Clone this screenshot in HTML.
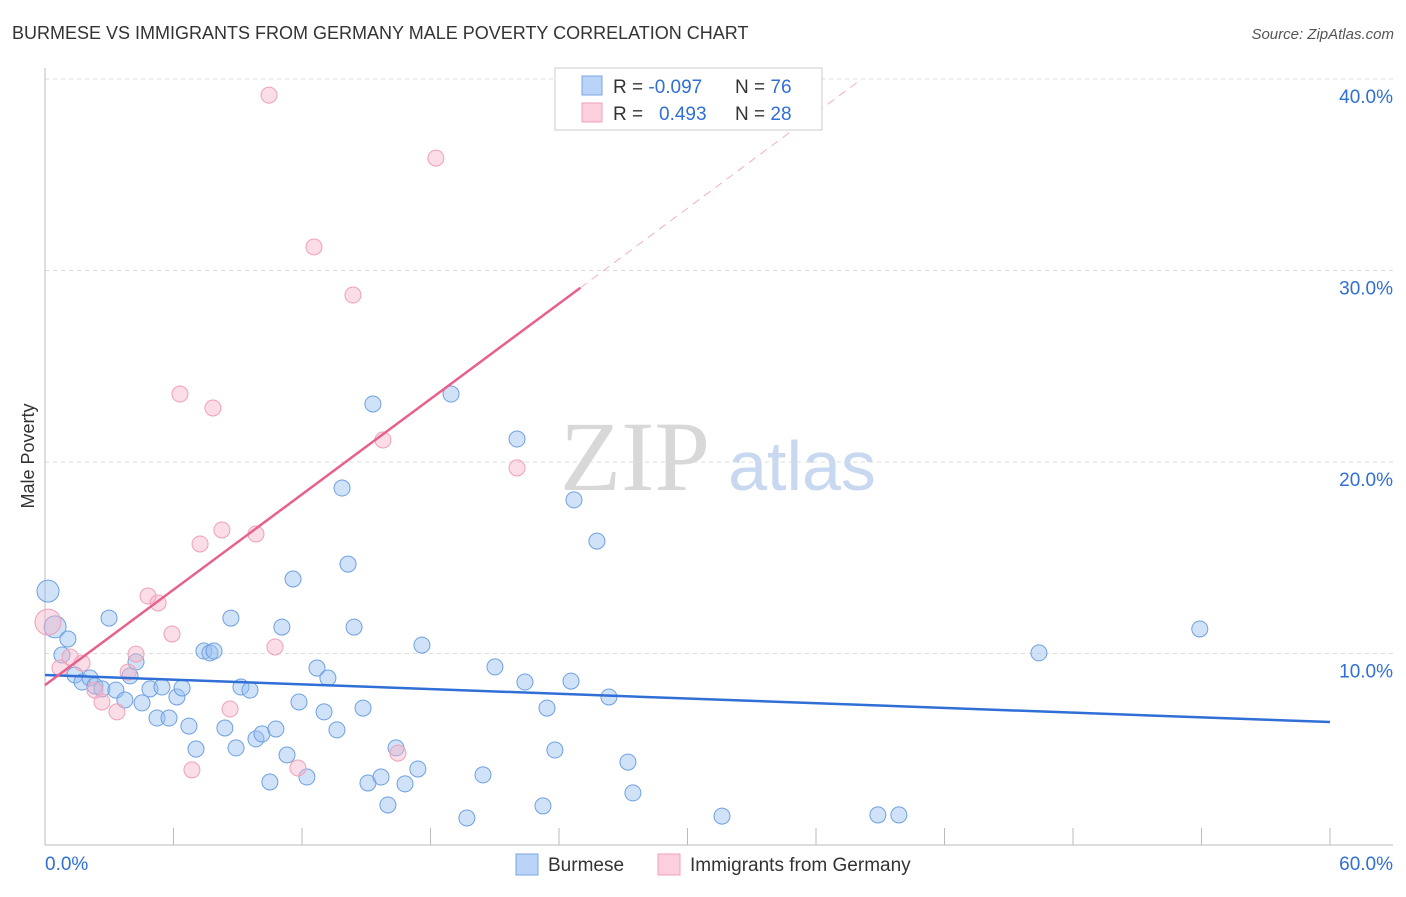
<!DOCTYPE html>
<html><head><meta charset="utf-8"><style>
body{margin:0;background:#fff;font-family:"Liberation Sans",sans-serif;}
svg text{font-family:"Liberation Sans",sans-serif;}
</style></head><body>
<svg width="1406" height="892" viewBox="0 0 1406 892" id="chart">
<text x="12" y="39" font-size="18" fill="#333">BURMESE VS IMMIGRANTS FROM GERMANY MALE POVERTY CORRELATION CHART</text>
<text x="1394" y="39" font-size="15" fill="#555" font-style="italic" text-anchor="end">Source: ZipAtlas.com</text>
<text x="635" y="490" font-size="100" fill="#d8d8d8" text-anchor="middle" style="font-family:'Liberation Serif',serif">ZIP</text>
<text x="802" y="490" font-size="70" fill="#c8d8f0" text-anchor="middle">atlas</text>
<g id="grid"></g>
<g id="axes"></g>
<g id="marks"></g>
<text transform="translate(34,456) rotate(-90)" font-size="18" fill="#333" text-anchor="middle">Male Poverty</text>
<g>
<rect x="555" y="68" width="267" height="62" fill="#fff" stroke="#ccc"/>
<rect x="582" y="76" width="20" height="19" fill="#b9d4f6" stroke="#7aa6e0"/>
<rect x="582" y="103" width="20" height="19" fill="#fbd0dc" stroke="#f0a0b8"/>
<text x="613" y="93" font-size="19" fill="#333">R = <tspan fill="#2f6fd6">-0.097</tspan></text>
<text x="735" y="93" font-size="19" fill="#333">N = <tspan fill="#2f6fd6">76</tspan></text>
<text x="613" y="120" font-size="19" fill="#333">R = <tspan fill="#2f6fd6" x="659">0.493</tspan></text>
<text x="735" y="120" font-size="19" fill="#333">N = <tspan fill="#2f6fd6">28</tspan></text>
</g>
<g>
<rect x="516" y="854" width="22" height="21" fill="#b9d4f6" stroke="#7aa6e0"/>
<text x="548" y="871" font-size="19" fill="#333">Burmese</text>
<rect x="658" y="854" width="22" height="21" fill="#fbd0dc" stroke="#f0a0b8"/>
<text x="690" y="871" font-size="19" fill="#333">Immigrants from Germany</text>
</g>
</svg>
<script>
const yTicks=[10,20,30,40];
const yTickLabels=["10.0%","20.0%","30.0%","40.0%"];
const xTickLabels=["0.0%","60.0%"];
const blueX=[0.14,0.47,1.07,0.79,1.40,1.73,2.10,2.33,2.66,3.31,2.99,3.73,3.97,4.25,4.53,4.90,5.23,5.46,5.79,6.16,6.40,6.72,7.05,7.42,7.70,7.89,8.40,8.68,8.92,9.15,9.57,9.85,10.13,10.50,10.78,11.06,11.30,11.58,11.86,12.23,12.70,13.03,13.21,13.63,13.87,14.15,14.43,14.85,15.08,15.31,15.69,16.01,16.39,16.81,17.41,17.60,18.96,19.70,20.45,21.01,22.04,22.41,23.25,23.44,23.81,24.56,24.70,25.77,26.33,27.22,27.45,31.61,38.89,39.87,46.41,53.92];
const blueY=[13.26,11.39,10.76,9.92,8.88,8.51,8.72,8.30,8.15,8.09,11.85,7.57,8.83,9.56,7.42,8.15,6.63,8.25,6.63,7.73,8.20,6.21,5.01,10.13,10.03,10.13,6.11,11.85,5.07,8.25,8.09,5.54,5.80,3.29,6.06,11.38,4.70,13.89,7.47,3.55,9.24,6.95,8.72,6.01,18.64,14.67,11.38,7.15,3.24,23.03,3.55,2.09,5.07,3.19,3.97,10.44,23.55,1.41,3.66,9.30,21.20,8.51,2.04,7.15,4.96,8.56,18.02,15.87,7.73,4.33,2.72,1.51,1.57,1.57,10.03,11.28];
const pinkX=[0.14,0.70,1.17,1.73,2.33,2.66,3.36,3.88,4.25,4.81,5.28,5.93,6.30,6.86,7.24,7.84,8.26,8.64,9.85,10.46,10.74,11.81,12.56,14.38,15.78,16.48,18.25,22.04];
const pinkY=[11.64,9.24,9.82,9.50,8.09,7.47,6.95,9.03,9.97,13.00,12.64,11.02,23.55,3.92,15.72,22.82,16.45,7.10,16.24,39.16,10.34,4.02,31.23,28.72,21.15,4.80,35.87,19.69];
const blueTrend=[8.88,6.42];
const pinkTrend=[8.35,0.83];
const NS="http://www.w3.org/2000/svg";
const X=v=>45+v*(1285/60);
const Y=v=>845-v*19.15;
function mk(tag,attrs,parent){const e=document.createElementNS(NS,tag);for(const k in attrs)e.setAttribute(k,attrs[k]);document.getElementById(parent).appendChild(e);return e;}
yTicks.forEach((t,i)=>{
 const l=mk('line',{x1:45,x2:1393,y1:Y(t),y2:Y(t),stroke:'#ddd','stroke-dasharray':'4,4'},'grid');
 
 
 const tx=mk('text',{x:1393,y:Y(t)+24,'font-size':19,fill:'#2f6fd6','text-anchor':'end'},'axes');
 tx.textContent=yTickLabels[i];
 
 
});
mk('line',{x1:45,x2:1393,y1:845,y2:845,stroke:'#bbb'},'axes');
mk('line',{x1:45,x2:45,y1:68,y2:845,stroke:'#bbb'},'axes');
for(let i=1;i<=10;i++){const t=mk('line',{x1:X(i*6),x2:X(i*6),y1:828,y2:845,stroke:'#bbb'},'axes');
 
 }
[[0,'start',45],[60,'end',1393]].forEach((d,i)=>{const t=mk('text',{x:d[2],y:870,'font-size':19,fill:'#2f6fd6','text-anchor':d[1]},'axes');t.textContent=xTickLabels[i];
 
 });
blueX.forEach((x,i)=>{const c=mk('circle',{cx:X(x),cy:Y(blueY[i]),r:i<2?11:8,fill:'rgba(150,190,240,0.45)',stroke:'#6fa0e0','stroke-width':1},'marks');
 
 });
pinkX.forEach((x,i)=>{const c=mk('circle',{cx:X(x),cy:Y(pinkY[i]),r:i<1?13:8,fill:'rgba(245,180,200,0.45)',stroke:'#f0a0b8','stroke-width':1},'marks');
 
 });
let l=mk('line',{x1:X(0),y1:Y(blueTrend[0]),x2:X(60),y2:Y(blueTrend[1]),stroke:'#2f6fd6','stroke-width':2.5},'marks');


const pe=25, pd=38.1;
l=mk('line',{x1:X(0),y1:Y(pinkTrend[0]),x2:X(pe),y2:Y(pinkTrend[0]+pinkTrend[1]*pe),stroke:'#e8608c','stroke-width':2.5},'marks');


l=mk('line',{x1:X(pe),y1:Y(pinkTrend[0]+pinkTrend[1]*pe),x2:X(pd),y2:Y(pinkTrend[0]+pinkTrend[1]*pd),stroke:'#f0b0c4','stroke-width':1,'stroke-dasharray':'8,6'},'marks');


</script>
</body></html>
